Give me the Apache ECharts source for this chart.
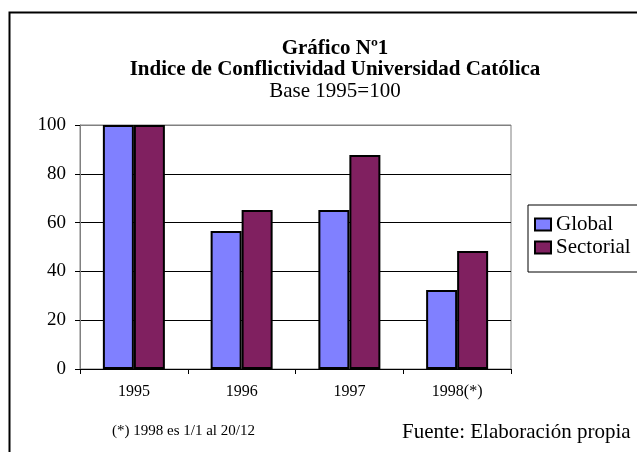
<!DOCTYPE html>
<html><head><meta charset="utf-8">
<script src="https://cdn.jsdelivr.net/npm/echarts@6/dist/echarts.min.js"></script>
<style>html,body{margin:0;padding:0;background:#fff}#c{width:637px;height:452px}</style>
</head><body><div id="c"></div>
<script>
const categories = ['1995', '1996', '1997', '1998(*)'];
const globalValues = [100, 56.6, 65.2, 32.4];
const sectorialValues = [100, 65.2, 87.7, 48.4];
const yTicks = [0, 20, 40, 60, 80, 100];
const serif = '"Liberation Serif", "DejaVu Serif", serif';

const chart = echarts.init(document.getElementById('c'));
chart.setOption({
  animation: false,
  backgroundColor: '#fff',
  title: [
    { text: 'Gráfico Nº1', left: 330, top: 33, textAlign: 'center',
      textStyle: { fontFamily: serif, fontSize: 21, fontWeight: 'bold', color: '#000' } },
    { text: 'Indice de Conflictividad Universidad Católica', left: 330, top: 54, textAlign: 'center',
      textStyle: { fontFamily: serif, fontSize: 21, fontWeight: 'bold', color: '#000' } },
    { text: 'Base 1995=100', left: 330, top: 76, textAlign: 'center',
      textStyle: { fontFamily: serif, fontSize: 21, fontWeight: 'normal', color: '#000' } }
  ],
  grid: { left: 80, top: 125, width: 431, height: 244, show: true, borderColor: '#808080', borderWidth: 1 },
  legend: {
    orient: 'vertical', left: 528, top: 205,
    data: ['Global', 'Sectorial'],
    icon: 'rect', itemWidth: 16, itemHeight: 12, itemGap: 2,
    borderColor: '#000', borderWidth: 1, padding: [9, 40, 14, 6],
    textStyle: { fontFamily: serif, fontSize: 21, color: '#000' }
  },
  xAxis: {
    type: 'category', data: categories,
    axisLine: { lineStyle: { color: '#000', width: 1 } },
    axisTick: { show: true, length: 5, lineStyle: { color: '#000' } },
    axisLabel: { fontFamily: serif, fontSize: 16, color: '#000', margin: 15 }
  },
  yAxis: {
    type: 'value', min: 0, max: 100, interval: 20,
    axisLine: { show: true, lineStyle: { color: '#808080', width: 1 } },
    axisTick: { show: true, length: 5, lineStyle: { color: '#000' } },
    axisLabel: { fontFamily: serif, fontSize: 19, color: '#000', margin: 14,
      formatter: v => yTicks.includes(v) ? String(v) : '' },
    splitLine: { show: true, lineStyle: { color: ['#808080', '#000', '#000', '#000', '#000', '#808080'], width: 1 } }
  },
  series: [
    { name: 'Global', type: 'bar', data: globalValues, barWidth: 31, barGap: '0%',
      itemStyle: { color: '#8080FF', borderColor: '#000', borderWidth: 2 } },
    { name: 'Sectorial', type: 'bar', data: sectorialValues, barWidth: 31, barGap: '0%',
      itemStyle: { color: '#802060', borderColor: '#000', borderWidth: 2 } }
  ],
  graphic: [
    { type: 'rect', left: 7, top: 10, shape: { width: 700, height: 500 },
      style: { fill: 'none', stroke: '#000', lineWidth: 2 }, silent: true, z: 100 },
    { type: 'text', left: 112, top: 424,
      style: { text: '(*) 1998 es 1/1 al 20/12', font: '15px ' + serif, fill: '#000' } },
    { type: 'text', left: 402, top: 422,
      style: { text: 'Fuente: Elaboración propia', font: '21px ' + serif, fill: '#000' } }
  ]
});
</script></body></html>
